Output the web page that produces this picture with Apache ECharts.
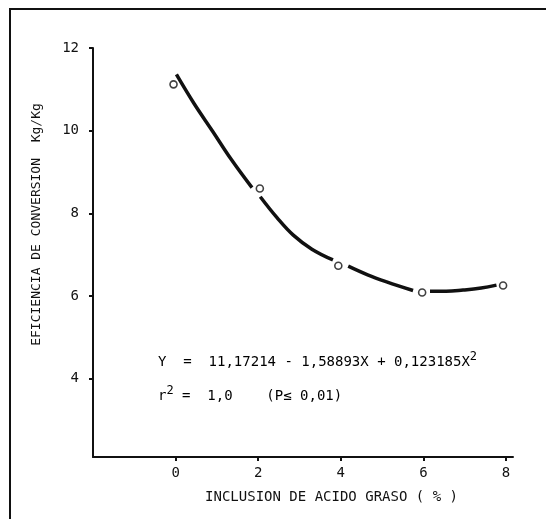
<!DOCTYPE html>
<html>
<head>
<meta charset="utf-8">
<script src="https://cdn.jsdelivr.net/npm/echarts@6/dist/echarts.min.js"></script>
<style>
  html, body { margin: 0; padding: 0; background: #fff; }
  #main { width: 546px; height: 519px; }
</style>
</head>
<body>
<div id="main"></div>
<script>
// observed points (circles)
var pointX = [-0.05, 2.04, 3.94, 5.97, 7.93];
var pointY = [11.12, 8.6, 6.73, 6.08, 6.25];

// hand-drawn curve in pieces (null = gap around a circle)
var curveX = [0.02, 0.45, 0.9, 1.35, 1.85, null, 2.05, 2.45, 2.85, 3.3, 3.81, null, 4.18, 4.65, 5.11, 5.75, null, 6.16, 6.55, 6.96, 7.4, 7.77];
var curveY = [11.36, 10.65, 9.98, 9.3, 8.62, null, 8.4, 7.9, 7.47, 7.13, 6.87, null, 6.72, 6.51, 6.34, 6.13, null, 6.11, 6.11, 6.14, 6.19, 6.26];

var xTicks = [0, 2, 4, 6, 8];
var yTicks = [4, 6, 8, 10, 12];

var xName = "INCLUSION DE ACIDO GRASO ( % )";
var yName = "EFICIENCIA DE CONVERSION  Kg/Kg";
var eqLine = "Y  =  11,17214 - 1,58893X + 0,123185X";
var rLine = " =  1,0    (P\u2264 0,01)";

var font = "DejaVu Sans Mono";
var ink = "#111";

var chart = echarts.init(document.getElementById("main"));

var curveData = curveX.map(function (x, i) {
  return x === null ? "-" : [x, curveY[i]];
});
var pointData = pointX.map(function (x, i) {
  return [x, pointY[i]];
});

var option = {
  backgroundColor: "#fff",
  animation: false,
  grid: { left: 93, right: 33, top: 48, bottom: 62 },
  xAxis: {
    type: "value",
    min: -2,
    max: 8.17,
    name: xName,
    nameLocation: "middle",
    nameGap: 33,
    nameTextStyle: { fontFamily: font, fontSize: 14, color: ink, padding: [0, 0, 0, 57] },
    axisLine: { onZero: false, lineStyle: { color: ink, width: 2 } },
    axisTick: { customValues: xTicks, length: 4, lineStyle: { color: ink, width: 2 } },
    axisLabel: { customValues: xTicks, margin: 9, fontFamily: font, fontSize: 14, color: ink },
    splitLine: { show: false }
  },
  yAxis: {
    type: "value",
    min: 2.1,
    max: 12,
    name: yName,
    nameLocation: "middle",
    nameGap: 50,
    nameRotate: 90,
    nameTextStyle: { fontFamily: font, fontSize: 13, color: ink, padding: [0, 0, 0, 56] },
    axisLine: { onZero: false, lineStyle: { color: ink, width: 2 } },
    axisTick: { customValues: yTicks, length: 4, lineStyle: { color: ink, width: 2 } },
    axisLabel: { customValues: yTicks, margin: 14, fontFamily: font, fontSize: 14, color: ink },
    splitLine: { show: false }
  },
  graphic: [
    {
      type: "rect",
      silent: true,
      shape: { x: 10, y: 9, width: 600, height: 600 },
      style: { fill: "none", stroke: ink, lineWidth: 2 }
    },
    {
      type: "text",
      left: 158,
      top: 351,
      style: {
        text: "{a|" + eqLine + "}{s|2}",
        rich: {
          a: { fontFamily: font, fontSize: 14, color: ink, lineHeight: 18, verticalAlign: "bottom" },
          s: { fontFamily: font, fontSize: 12, color: ink, lineHeight: 18, verticalAlign: "top" }
        }
      }
    },
    {
      type: "text",
      left: 158,
      top: 385,
      style: {
        text: "{a|r}{s|2}{a|" + rLine + "}",
        rich: {
          a: { fontFamily: font, fontSize: 14, color: ink, lineHeight: 18, verticalAlign: "bottom" },
          s: { fontFamily: font, fontSize: 12, color: ink, lineHeight: 18, verticalAlign: "top" }
        }
      }
    }
  ],
  series: [
    {
      type: "line",
      data: curveData,
      smooth: 0.4,
      showSymbol: false,
      connectNulls: false,
      lineStyle: { color: ink, width: 3.5 },
      z: 2
    },
    {
      type: "scatter",
      data: pointData,
      symbol: "circle",
      symbolSize: 7,
      itemStyle: { color: "#fff", borderColor: ink, borderWidth: 1.6 },
      z: 3
    }
  ]
};

chart.setOption(option);
</script>
</body>
</html>
